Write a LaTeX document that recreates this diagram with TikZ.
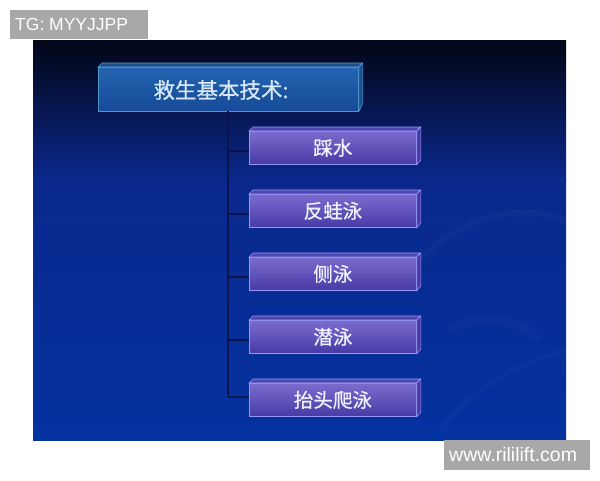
\documentclass[tikz,border=0pt]{standalone}
\usepackage{fontspec}
\setmainfont{Liberation Sans}
\newfontfamily\cjk[FakeBold=0.8]{Noto Sans CJK SC}
\definecolor{bgtop}{RGB}{3,6,22}
\definecolor{bgmid}{RGB}{10,40,140}
\definecolor{bgbot}{RGB}{4,50,160}
\definecolor{purtop}{RGB}{122,108,205}
\definecolor{purbot}{RGB}{72,58,165}
\definecolor{puredge}{RGB}{150,150,245}
\definecolor{purside}{RGB}{80,70,175}
\definecolor{titletop}{RGB}{36,100,176}
\definecolor{titlebot}{RGB}{22,74,152}
\definecolor{titleedge}{RGB}{80,150,205}
\definecolor{trunkc}{RGB}{10,18,80}
\definecolor{tagbg}{RGB}{168,168,168}
\tikzset{
  itembox/.style={draw=puredge, line width=0.8pt, top color=purtop, bottom color=purbot,
    minimum width=167pt, minimum height=33pt, inner sep=0pt},
  titlebox/.style={draw=titleedge, line width=0.8pt, top color=titletop, bottom color=titlebot,
    minimum width=260pt, minimum height=44pt, inner sep=0pt},
  itemface/.style={draw=puredge, line width=0.6pt, fill=purside},
  titleface/.style={draw=titleedge, line width=0.6pt, fill=titletop!80!black},
  conn/.style={draw=trunkc, line width=1.8pt},
  tag/.style={fill=tagbg, text=white, inner sep=0pt, font=\fontsize{17.5}{17.5}\selectfont}
}
\begin{document}
\begin{tikzpicture}[x=1pt,y=-1pt]
\useasboundingbox[fill=white] (0,0) rectangle (600,480);
% slide background
\shade[top color=bgtop, bottom color=bgmid] (33,40) rectangle (566,180);
\shade[top color=bgmid, bottom color=bgbot] (33,179.5) rectangle (566,440);
% faint swooshes
\draw[white, opacity=0.025, line width=6pt] (420,260) .. controls (480,200) and (540,210) .. (566,220);
\draw[white, opacity=0.02, line width=5pt] (440,430) .. controls (480,380) and (530,360) .. (566,350);
\draw[white, opacity=0.02, line width=8pt] (450,330) .. controls (480,310) and (520,320) .. (540,340);
% title box
\node[titlebox, anchor=north west] (title) at (98,67) {};
\fill[titleface] (title.north west) -- ++(4,-4) -- ++(260,0) -- (title.north east) -- cycle;
\fill[titleface] (title.north east) -- ++(4,-4) -- ++(0,40) -- (title.south east) -- cycle;
\node[font=\cjk\fontsize{21.5}{21.5}\selectfont, text={rgb,255:red,215;green,232;blue,248}] (titletext) at (221,90) {救生基本技术:};
% items
\foreach \i/\t/\lbl in {1/127/踩水, 2/190/反蛙泳, 3/253/侧泳, 4/316/潜泳, 5/379/抬头爬泳}{
  \node[itembox, anchor=north west] (b\i) at (249,\t+4) {};
  \fill[itemface] (b\i.north west) -- ++(4,-4) -- ++(167,0) -- (b\i.north east) -- cycle;
  \fill[itemface, fill=purbot] (b\i.north east) -- ++(4,-4) -- ++(0,33) -- (b\i.south east) -- cycle;
  \node[font=\cjk\fontsize{19.5}{19.5}\selectfont, text={rgb,255:red,240;green,240;blue,255}] (t\i) at (b\i.center) {\lbl};
}
% connectors
\coordinate (trunktop) at (228,111);
\coordinate (j1) at (228,151);
\coordinate (j2) at (228,214);
\coordinate (j3) at (228,277);
\coordinate (j4) at (228,340);
\coordinate (j5) at (228,397);
\draw[conn] (trunktop) -- (j5);
\foreach \i in {1,...,5}{
  \draw[conn] (j\i) -- (j\i -| b\i.west);
}
% tags
\node[tag, anchor=north west, minimum width=138pt, minimum height=29pt] (tg) at (10,10) {};
\node[tag, anchor=west] (tgtext) at (15,24.5) {TG: MYYJJPP};
\node[tag, anchor=north west, minimum width=146pt, minimum height=30pt] (www) at (444,440) {};
\node[tag, anchor=west, font=\fontsize{19.5}{19.5}\selectfont] (wwwtext) at (449,455) {www.rililift.com};
\end{tikzpicture}
\end{document}
